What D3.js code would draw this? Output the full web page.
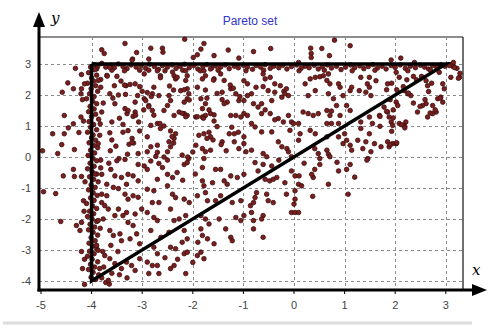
<!DOCTYPE html>
<html>
<head>
<meta charset="utf-8">
<script src="https://cdn.jsdelivr.net/npm/d3@7"></script>
<style>
  body { margin: 0; background: #fff; }
  svg { display: block; font-family: Arial, "Liberation Sans", sans-serif; }
</style>
</head>
<body>
<svg id="viz" width="489" height="332"></svg>
<script>
const WIDTH = 489, HEIGHT = 332;

const xTicks = [-5, -4, -3, -2, -1, 0, 1, 2, 3];
const yTicks = [-4, -3, -2, -1, 0, 1, 2, 3];
const xGrid = [-4, -3, -2, -1, 0, 1, 2, 3];
const yGrid = [-4, -3, -2, -1, 0, 1, 2, 3];

// triangle outline (the true Pareto set)
const pareto = [[-4, 3], [3, 3], [-4, -4], [-4, 3]];

const topEdge = [[-3.95,2.98],[-3.88,2.92],[-3.8,3.02],[-3.72,2.9],[-3.62,2.96],[-3.55,2.88],[-3.47,3.0],[-3.38,2.92],[-3.3,2.85],[-3.22,2.97],[-3.12,2.9],[-3.02,2.95],[-2.93,2.86],[-2.85,2.99],[-2.76,2.92],[-2.68,2.83],[-2.6,2.95],[-2.5,2.9],[-2.41,2.97],[-2.33,2.86],[-2.25,2.93],[-2.16,2.99],[-2.07,2.88],[-1.98,2.95],[-1.9,2.84],[-1.8,2.92],[-1.72,2.98],[-1.63,2.87],[-1.55,2.94],[-1.45,2.9],[-1.36,2.97],[-1.28,2.85],[-1.18,2.93],[-1.1,2.88],[-1.0,2.96],[-0.92,2.9],[-0.82,2.83],[-0.75,2.95],[-0.66,2.9],[-0.57,2.98],[-0.47,2.86],[-0.4,2.93],[-0.3,2.88],[-0.22,2.96],[-0.14,2.84],[-0.05,2.92],[0.05,2.97],[0.14,2.86],[0.22,2.93],[0.3,2.88],[0.4,2.96],[0.48,2.84],[0.56,2.91],[0.66,2.97],[0.74,2.87],[0.84,2.93],[0.93,2.82],[1.02,2.9],[1.12,2.97],[1.2,2.88],[1.3,2.94],[1.38,2.85],[1.47,2.92],[1.56,2.98],[1.65,2.87],[1.74,2.93],[1.82,2.84],[1.92,2.95],[2.0,2.89],[2.1,2.97],[2.2,2.86],[2.3,2.93],[2.4,2.88],[2.5,2.96],[2.58,2.9],[2.66,2.84],[2.74,2.95],[2.82,2.9],[2.9,2.97],[2.98,2.93],[3.06,2.98],[3.14,2.92],[3.22,2.86],
  [-3.9,2.84],[-3.6,2.8],[-3.35,2.78],[-3.05,2.8],[-2.55,2.78],[-2.2,2.8],[-1.85,2.78],[-1.5,2.8],[-0.95,2.78],[-0.6,2.8],[0.1,2.78],[0.6,2.8],[1.15,2.78],[1.6,2.8],[2.25,2.78],[2.7,2.8]];

const leftEdge = [[-4.02,2.9],[-3.94,2.82],[-4.06,2.72],[-3.9,2.64],[-4.0,2.55],[-3.96,2.45],[-4.08,2.38],[-3.92,2.3],[-4.01,2.2],[-3.88,2.12],[-4.04,2.04],[-3.95,1.95],[-4.1,1.88],[-3.98,1.8],[-3.9,1.72],[-4.03,1.63],[-3.95,1.55],[-4.06,1.46],[-3.92,1.38],[-4.0,1.3],[-3.86,1.22],[-4.05,1.14],[-3.96,1.05],[-4.02,0.96],[-3.9,0.88],[-4.08,0.8],[-3.97,0.71],[-4.0,0.62],[-3.92,0.54],[-4.05,0.46],[-3.96,0.37],[-3.88,0.3],[-4.02,0.22],[-3.94,0.13],[-4.07,0.05],[-3.98,-0.04],[-3.9,-0.12],[-4.03,-0.2],[-3.95,-0.3],[-4.08,-0.38],[-3.99,-0.47],[-3.9,-0.55],[-4.04,-0.64],[-3.96,-0.72],[-3.87,-0.8],[-4.01,-0.9],[-3.93,-0.98],[-4.06,-1.06],[-3.97,-1.15],[-3.89,-1.24],[-4.02,-1.32],[-3.95,-1.4],[-4.1,-1.5],[-3.98,-1.58],[-3.9,-1.66],[-4.04,-1.75],[-3.96,-1.83],[-4.08,-1.92],[-3.99,-2.0],[-3.9,-2.08],[-4.03,-2.17],[-3.94,-2.26],[-4.06,-2.35],[-3.97,-2.43],[-3.88,-2.52],[-4.01,-2.6],[-3.93,-2.7],[-4.05,-2.78],[-3.98,-2.87],[-3.9,-2.95],[-4.04,-3.04],[-3.95,-3.12],[-4.08,-3.2],[-3.99,-3.3],[-3.88,-3.38],[-4.02,-3.46],[-3.94,-3.55],[-4.06,-3.63],[-3.97,-3.72],[-3.86,-3.8],[-4.01,-3.88],[-3.92,-3.95],[-3.8,-3.9],[-3.72,-4.05],[-3.65,-4.1],
  [-3.82,2.5],[-3.8,1.45],[-3.84,0.7],[-3.82,-0.35],[-3.8,-1.2],[-3.83,-2.3],[-3.78,-3.05],[-3.76,-3.55]];

const outsideLeft = [[-4.32,2.86],[-4.2,2.66],[-4.47,2.39],[-4.36,2.2],[-4.58,2.09],[-4.21,2.04],[-4.18,1.85],[-4.54,1.34],[-4.36,1.07],[-4.46,0.94],[-4.21,1.29],[-4.16,1.16],[-4.77,0.75],[-4.54,0.75],[-4.25,0.79],[-4.59,0.4],[-4.34,0.24],[-4.97,0.2],[-4.67,0.11],[-4.14,2.36],[-4.2,2.2],[-4.36,-0.4],[-4.56,-0.61],[-4.34,-0.63],[-4.2,-0.63],[-4.13,-0.8],[-4.95,-1.12],[-4.71,-1.18],[-4.16,-1.41],[-4.61,-2.08],[-4.3,-2.21],[-4.2,-2.11],[-4.23,-2.37],[-4.2,-3.05],[-4.18,-3.6],[-4.14,-4.11],[-4.15,-1.75],[-4.14,-3.3]];

const upperLeft = [[-3.8,3.46],[-3.75,3.34],[-3.34,3.66],[-3.11,3.37],[-3.19,3.16],[-3.7,2.63],[-3.87,2.47],[-3.82,2.25],[-3.64,2.89],[-3.32,2.3],[-3.24,2.34],[-3.14,2.36],[-3.05,2.27],[-3.0,2.12],[-2.96,1.88],[-3.64,2.04],[-3.47,2.0],[-3.33,2.02],[-3.09,1.98],[-3.77,1.74],[-3.34,1.56],[-3.3,1.4],[-3.14,1.45],[-3.18,1.31],[-3.6,1.13],[-3.83,1.07],[-3.38,1.05],[-3.07,1.13],[-3.64,0.78],[-3.38,0.8],[-3.05,0.84],[-3.87,0.43],[-3.26,0.41],[-3.17,0.45],[-3.63,0.2],[-3.46,-0.05],[-3.08,0.11],[-3.29,0.09],[-3.54,1.72],[-3.14,1.77],[-3.69,2.61],[-3.35,2.32],[-3.2,3.13],[-3.28,1.5],[-3.13,1.35],[-3.6,0.55],[-3.52,0.35],[-3.2,0.6],[-3.45,1.25],[-3.55,2.3],[-3.5,2.6],[-3.42,2.45],[-3.58,1.9],[-3.28,0.85],[-3.2,0.47]];

const upperMid = [[-2.16,3.8],[-1.78,3.66],[-1.84,3.48],[-1.91,3.3],[-1.99,3.21],[-1.58,3.27],[-1.3,3.45],[-1.09,3.19],[-2.6,3.51],[-2.83,3.51],[-2.87,3.16],[-2.59,3.38],
  [-2.96,2.68],[-2.87,2.8],[-2.7,2.78],[-2.64,2.62],[-2.37,2.62],[-2.34,2.52],[-2.31,2.57],[-2.4,2.74],[-2.14,2.78],[-2.11,2.62],[-2.14,2.47],[-1.78,2.78],[-1.75,2.62],[-1.81,2.52],[-1.65,2.84],[-1.45,2.68],[-1.58,2.52],[-1.38,2.47],[-0.99,2.46],[-0.92,2.36],
  [-2.77,2.25],[-2.8,2.04],[-2.67,1.98],[-2.47,1.98],[-2.44,1.82],[-2.5,1.66],[-2.11,2.2],[-2.08,2.04],[-2.11,1.88],[-2.17,1.77],[-1.91,2.25],[-1.84,1.88],[-1.75,1.72],[-1.81,1.56],[-1.42,2.09],[-1.25,2.2],[-1.32,1.77],[-1.38,1.72],[-1.15,2.04],[-1.09,1.82],[-0.99,1.82],[-0.92,1.98],
  [-2.93,1.82],[-2.87,1.66],[-2.8,1.5],[-2.57,1.5],[-2.37,1.34],[-2.27,1.45],[-2.17,1.4],[-2.11,1.34],[-1.94,1.29],[-1.81,1.29],[-1.75,1.34],[-1.65,1.4],[-1.58,1.16],[-1.25,1.34],[-1.15,1.34],[-1.05,1.29],[-0.99,1.4],[-0.92,1.34],
  [-2.83,1.02],[-2.7,1.08],[-2.64,0.92],[-2.34,0.75],[-2.37,0.6],[-2.47,0.49],[-2.44,0.33],[-2.5,0.17],[-1.78,0.75],[-1.68,0.8],[-1.65,0.65],[-1.28,0.75],[-1.18,0.75],[-0.99,0.65],[-2.9,0.65],[-2.83,0.33],[-2.7,0.38],[-1.94,0.38],[-1.81,0.27],[-1.75,0.17],[-1.65,0.22],[-1.42,0.49],[-1.18,0.49],[-1.09,0.27],[-0.99,0.43],[-0.95,0.17],[-2.9,0.17],[-2.73,0.02],[-2.21,0.06],[-2.08,-0.05],[-1.78,-0.05],
  [-2.9,2.08],[-2.82,1.95],[-2.64,2.56],[-2.46,2.29],[-2.38,2.16],[-2.24,2.14],[-2.17,2.17],[-2.07,1.84],[-1.75,2.16],[-1.72,1.9],[-1.52,2.05],[-1.42,1.85],[-1.26,2.32],[-1.2,2.22],[-1.07,1.95],[-1.59,2.48],[-2.97,1.52],[-2.87,1.62],[-2.77,1.35],[-2.65,1.08],[-2.57,1.0],[-2.44,0.84],[-2.41,0.66],[-2.38,0.45],[-2.21,1.41],[-2.14,1.3],[-1.91,1.3],[-1.79,1.25],[-1.68,1.52],[-1.58,1.36],[-1.52,0.98],[-1.88,0.7],[-1.72,0.6],[-1.6,0.55],[-1.44,0.4],[-1.34,0.2],[-1.23,0.96],[-1.1,0.8],[-2.0,0.16],[-2.1,0.0],[-2.7,0.15],[-2.57,0.0]];

const upperRight = [[-0.46,3.5],[0.33,3.51],[0.34,3.34],[0.34,3.21],[0.55,3.5],[0.7,3.27],[0.8,3.77],[1.11,3.59],[-0.8,3.4],[0.09,3.05],
  [-0.61,2.68],[-0.57,2.52],[-0.47,2.57],[-0.75,2.25],[-0.61,2.27],[-0.84,2.04],[-0.38,2.36],[-0.27,2.3],[-0.2,2.12],[-0.15,2.2],[-0.11,1.98],[-0.24,1.93],[-0.18,2.04],[-0.38,2.09],[-0.51,2.14],[-0.44,1.82],[-0.64,1.72],[-0.57,1.52],[-0.47,1.4],[-0.31,1.24],[-0.38,1.2],[-0.11,1.34],[-0.05,1.13],[-0.01,1.08],[0.22,2.36],[0.32,2.52],[0.42,2.57],[0.51,2.59],[0.58,2.62],[0.65,2.47],[0.71,2.36],[0.68,2.68],[0.88,2.36],[0.91,2.25],[0.42,2.14],[0.28,1.98],[0.68,2.04],[0.78,1.88],[0.97,1.98],[1.11,2.14],[1.14,2.25],[0.84,1.66],[1.04,1.66],[1.11,1.5],[0.18,1.45],[0.28,1.4],[0.38,1.34],[0.48,1.4],[0.65,1.5],[0.74,1.48],[0.71,1.34],[0.91,1.34],[0.65,1.08],[0.74,1.08],[0.88,1.08],[0.09,1.08],[0.12,0.75],[0.09,0.54],[0.32,0.86],[0.42,0.75],[0.65,0.65],[0.88,0.65],[-0.8,1.72],[-0.71,1.61],[-0.64,1.4],[-0.84,1.08],[-0.77,0.97],[-0.64,0.81],[-0.44,0.81],[-0.21,1.13],[-0.08,0.86],[-0.31,0.49],[-0.24,0.33],[-0.14,0.27],[-0.11,0.17],[-0.05,0.01],[-0.61,0.11],[-0.54,0.01],[-0.84,0.22],[0.41,0.27],[0.48,0.11],[0.65,0.22],[0.68,0.09],[0.51,-0.05],[0.71,0.01],[0.97,0.43],[1.04,0.54],[1.11,0.38],[1.14,0.22],[1.0,0.75]];

const farRight = [[2.11,3.19],[1.92,3.13],[2.38,3.05],[1.32,2.57],[1.49,2.57],[1.45,2.36],[1.62,2.46],[1.29,2.14],[1.42,2.09],[1.52,1.98],[1.49,2.25],[1.85,2.36],[2.02,2.73],[2.08,2.57],[2.18,2.14],[2.25,2.04],[2.31,1.98],[2.61,2.46],[2.64,2.3],[2.94,2.36],[2.97,2.2],[2.9,1.93],[2.94,1.77],[2.84,1.88],[2.61,1.72],[2.54,1.66],[2.74,1.66],[2.81,1.45],[2.74,1.4],[2.44,1.45],[2.64,1.29],[2.02,1.77],[2.05,1.66],[1.78,1.61],[1.69,1.34],[1.85,1.45],[1.88,1.29],[1.92,1.13],[1.95,1.02],[2.08,1.08],[2.18,1.02],[2.21,1.13],[1.49,1.29],[1.32,1.13],[1.55,1.08],[1.32,0.92],[1.49,0.75],[1.42,0.49],[1.59,0.43],[1.85,0.49],[1.95,0.43],[2.02,0.43],[1.88,0.33],[1.72,0.33],[1.36,0.27],[1.52,0.17],[1.46,-0.05],[1.26,0.54],[3.07,2.95],[3.17,2.89],[3.27,2.57],[3.1,2.57],[2.87,2.73],[3.15,3.05],[3.28,2.7],[3.25,2.54],[2.72,2.38],[2.66,2.11],[2.59,1.85],[2.49,1.63],[2.69,1.42],[2.79,1.52],[2.89,1.9],[2.23,2.49],[2.16,2.27],[2.26,2.06],[2.36,1.74],[2.03,2.17],[1.93,2.38],[1.83,2.17],[1.9,1.85],[1.96,1.52],[1.83,1.47],[1.7,1.31],[1.96,1.26],[1.93,0.83],[2.03,0.46],[1.9,0.4],[1.7,0.99],[2.13,1.04],[2.19,0.94],[2.42,2.49],[2.52,2.6],[2.36,2.6]];

const lowerLeft = [[-3.82,-0.1],[-3.66,-0.2],[-3.5,-0.12],[-3.34,-0.08],[-3.08,-0.24],[-2.96,-0.29],[-3.93,-0.55],[-3.8,-0.56],[-3.54,-0.61],[-3.41,-0.66],[-3.28,-0.56],[-3.18,-0.61],[-3.7,-0.88],[-3.57,-0.98],[-3.47,-1.02],[-3.31,-0.88],[-3.08,-0.77],[-3.18,-1.25],[-3.08,-1.3],[-3.34,-1.2],[-3.28,-1.36],[-3.8,-1.47],[-3.74,-1.57],[-3.67,-1.68],[-3.47,-1.68],[-3.31,-1.79],[-3.14,-1.84],[-3.01,-1.68],[-3.87,-2.05],[-3.77,-2.0],[-3.54,-1.89],[-3.38,-1.89],[-3.28,-2.11],[-3.18,-2.21],[-3.64,-2.37],[-3.57,-2.53],[-3.44,-2.48],[-3.41,-2.7],[-3.24,-2.64],[-3.11,-2.48],[-3.05,-2.8],[-3.9,-2.85],[-3.87,-3.01],[-3.74,-3.18],[-3.64,-3.28],[-3.31,-3.39],[-3.21,-3.5],[-3.14,-3.66],[-3.54,-3.44],[-3.41,-3.6],[-3.67,-3.98],[-3.84,-3.6],[-3.05,-3.28],[-3.6,-3.75],[-3.45,-3.8],[-3.3,-3.9],[-3.62,-2.85],[-3.48,-3.05],[-3.7,-1.25],[-3.62,-0.4]];

const lowerMid = [[-2.83,-0.13],[-2.67,-0.21],[-2.9,-0.4],[-2.6,-0.34],[-2.5,-0.56],[-2.4,-0.66],[-2.7,-0.72],[-2.31,-0.5],[-2.17,-0.24],[-2.11,-0.18],[-1.81,-0.34],[-1.55,-0.4],[-1.45,-0.4],[-1.25,-0.61],[-1.12,-0.66],[-0.99,-0.56],[-1.38,-0.77],[-1.32,-0.88],[-1.81,-0.77],[-1.61,-0.83],[-1.78,-0.93],[-2.9,-1.04],[-2.77,-1.09],[-2.5,-0.93],[-2.4,-1.2],[-2.34,-1.31],[-2.67,-1.47],[-2.8,-1.47],[-2.17,-1.36],[-2.07,-1.47],[-1.91,-1.25],[-1.75,-1.15],[-1.71,-1.41],[-1.55,-1.41],[-1.45,-1.25],[-1.22,-1.47],[-1.05,-1.41],[-0.86,-1.57],[-2.9,-1.79],[-2.77,-1.95],[-2.7,-2.05],[-2.44,-1.68],[-2.37,-2.05],[-2.27,-2.0],[-2.14,-1.89],[-1.84,-1.89],[-1.75,-2.0],[-1.68,-2.16],[-1.48,-2.0],[-1.15,-1.95],[-1.05,-2.05],[-0.99,-1.89],[-2.83,-2.37],[-2.63,-2.59],[-2.47,-2.43],[-2.17,-2.37],[-2.11,-2.64],[-1.84,-2.32],[-1.81,-2.53],[-1.71,-2.64],[-1.58,-2.8],[-1.35,-2.32],[-1.25,-2.59],[-1.22,-2.7],[-2.77,-2.91],[-2.7,-3.12],[-2.44,-2.91],[-2.34,-2.96],[-2.21,-2.75],[-2.17,-3.12],[-2.11,-3.07],[-1.91,-3.18],[-1.84,-3.07],[-1.78,-3.28],[-2.9,-3.39],[-2.8,-3.5],[-2.7,-3.5],[-2.44,-3.6],[-2.37,-3.5],[-2.87,-3.76],[-2.67,-3.76],[-2.14,-3.76],[-2.5,-0.1],[-2.2,-0.75],[-1.95,-0.55],[-1.9,-2.75],[-2.55,-3.25],[-2.3,-3.3],[-2.0,-3.4]];

const lowerRight = [[-0.77,-0.18],[-0.61,-0.24],[-0.44,-0.29],[-0.71,-0.45],[-0.57,-0.72],[-0.48,-0.77],[-0.41,-0.72],[-0.34,-0.66],[-0.18,-0.83],[-0.05,-0.45],[0.02,-0.61],[0.1,-0.61],[0.09,-0.88],[0.15,-0.93],[0.02,-1.09],[-0.15,-1.2],[0.38,-0.66],[0.41,-0.4],[0.35,-0.56],[0.51,-0.24],[0.68,-0.88],[0.88,-0.45],[1.04,-0.4],[1.11,-0.24],[1.07,-1.2],[0.37,-1.27],[-0.8,-1.47],[-0.77,-1.31],[-0.74,-1.15],[-0.54,-1.2],[-0.51,-1.41],[-0.41,-1.47],[-0.05,-1.79],[0.02,-1.79],[0.09,-1.79],[-0.61,-1.89],[-0.64,-2.0],[-0.8,-2.05],[-0.84,-1.79],[-0.8,-2.32],[-0.61,-2.59],[0.0,-1.52],[0.02,-1.36],[0.85,-0.17],[1.2,-0.65],[1.44,-0.1],[0.2,-0.2],[-0.3,-0.1]];

const points = [].concat(topEdge, leftEdge, outsideLeft, upperLeft, upperMid,
  upperRight, farRight, lowerLeft, lowerMid, lowerRight);

// scales
const x = d3.scaleLinear().domain([-5, 3]).range([41, 445.8]);
const y = d3.scaleLinear().domain([-4, 3]).range([281, 64]);

const PLOT = { left: 39, right: 463, top: 37, bottom: 290 };

const svg = d3.select("#viz");
svg.append("rect").attr("width", WIDTH).attr("height", HEIGHT).attr("fill", "#fff");

// title
svg.append("text")
  .attr("x", 250).attr("y", 25)
  .attr("text-anchor", "middle")
  .attr("font-size", 12)
  .attr("fill", "#3333cc")
  .text("Pareto set");

// grid
const grid = svg.append("g").attr("stroke", "#8a8a8a").attr("stroke-width", 1)
  .attr("stroke-dasharray", "3,3");
grid.selectAll("line.v").data(xGrid).join("line")
  .attr("class", "v")
  .attr("x1", d => Math.round(x(d)) + 0.5).attr("x2", d => Math.round(x(d)) + 0.5)
  .attr("y1", PLOT.top).attr("y2", PLOT.bottom);
grid.selectAll("line.h").data(yGrid).join("line")
  .attr("class", "h")
  .attr("y1", d => Math.round(y(d)) + 0.5).attr("y2", d => Math.round(y(d)) + 0.5)
  .attr("x1", PLOT.left).attr("x2", PLOT.right);

// frame: top gray, right dark
svg.append("line")
  .attr("x1", PLOT.left).attr("x2", PLOT.right)
  .attr("y1", PLOT.top).attr("y2", PLOT.top)
  .attr("stroke", "#8c8c8c").attr("stroke-width", 2);
svg.append("line")
  .attr("x1", PLOT.right).attr("x2", PLOT.right)
  .attr("y1", PLOT.top).attr("y2", PLOT.bottom)
  .attr("stroke", "#222").attr("stroke-width", 1.3);

// points
svg.append("g").selectAll("circle").data(points).join("circle")
  .attr("cx", d => x(d[0]))
  .attr("cy", d => y(d[1]))
  .attr("r", 2.3)
  .attr("fill", "#7c1e1e")
  .attr("stroke", "#3a1010")
  .attr("stroke-width", 0.8);

// pareto triangle
svg.append("path")
  .datum(pareto)
  .attr("d", d3.line().x(d => x(d[0])).y(d => y(d[1])))
  .attr("fill", "none")
  .attr("stroke", "#000")
  .attr("stroke-width", 3.5)
  .attr("stroke-linejoin", "miter");

// axes with arrows
svg.append("line")
  .attr("x1", PLOT.left).attr("x2", PLOT.left)
  .attr("y1", PLOT.bottom + 1.5).attr("y2", 24)
  .attr("stroke", "#000").attr("stroke-width", 3);
svg.append("path")
  .attr("d", `M${PLOT.left},12 L${PLOT.left - 6},27 L${PLOT.left + 6},27 Z`)
  .attr("fill", "#000");
svg.append("line")
  .attr("x1", PLOT.left - 1.5).attr("x2", 474)
  .attr("y1", PLOT.bottom).attr("y2", PLOT.bottom)
  .attr("stroke", "#000").attr("stroke-width", 3);
svg.append("path")
  .attr("d", `M487,${PLOT.bottom} L472,${PLOT.bottom - 6} L472,${PLOT.bottom + 6} Z`)
  .attr("fill", "#000");

// tick marks + labels
const xt = svg.append("g");
xt.selectAll("line").data(xTicks).join("line")
  .attr("x1", d => x(d)).attr("x2", d => x(d))
  .attr("y1", PLOT.bottom).attr("y2", PLOT.bottom + 4)
  .attr("stroke", "#000");
xt.selectAll("text").data(xTicks).join("text")
  .attr("x", d => x(d)).attr("y", 309)
  .attr("text-anchor", "middle")
  .attr("font-size", 11).attr("fill", "#444")
  .text(d => d);

svg.append("g").selectAll("text").data(yTicks).join("text")
  .attr("x", 31).attr("y", d => y(d) + 4)
  .attr("text-anchor", "end")
  .attr("font-size", 11).attr("fill", "#444")
  .text(d => d);

// axis names
svg.append("text")
  .attr("x", 51).attr("y", 23)
  .attr("font-family", "'DejaVu Serif', 'Liberation Serif', serif")
  .attr("font-style", "italic")
  .attr("font-size", 15)
  .text("y");
svg.append("text")
  .attr("x", 472).attr("y", 275)
  .attr("font-family", "'DejaVu Serif', 'Liberation Serif', serif")
  .attr("font-style", "italic")
  .attr("font-size", 15)
  .text("x");

// bottom separator
svg.append("line")
  .attr("x1", 3).attr("x2", 472)
  .attr("y1", 323).attr("y2", 323)
  .attr("stroke", "#dcdcdc").attr("stroke-width", 3);
</script>
</body>
</html>
